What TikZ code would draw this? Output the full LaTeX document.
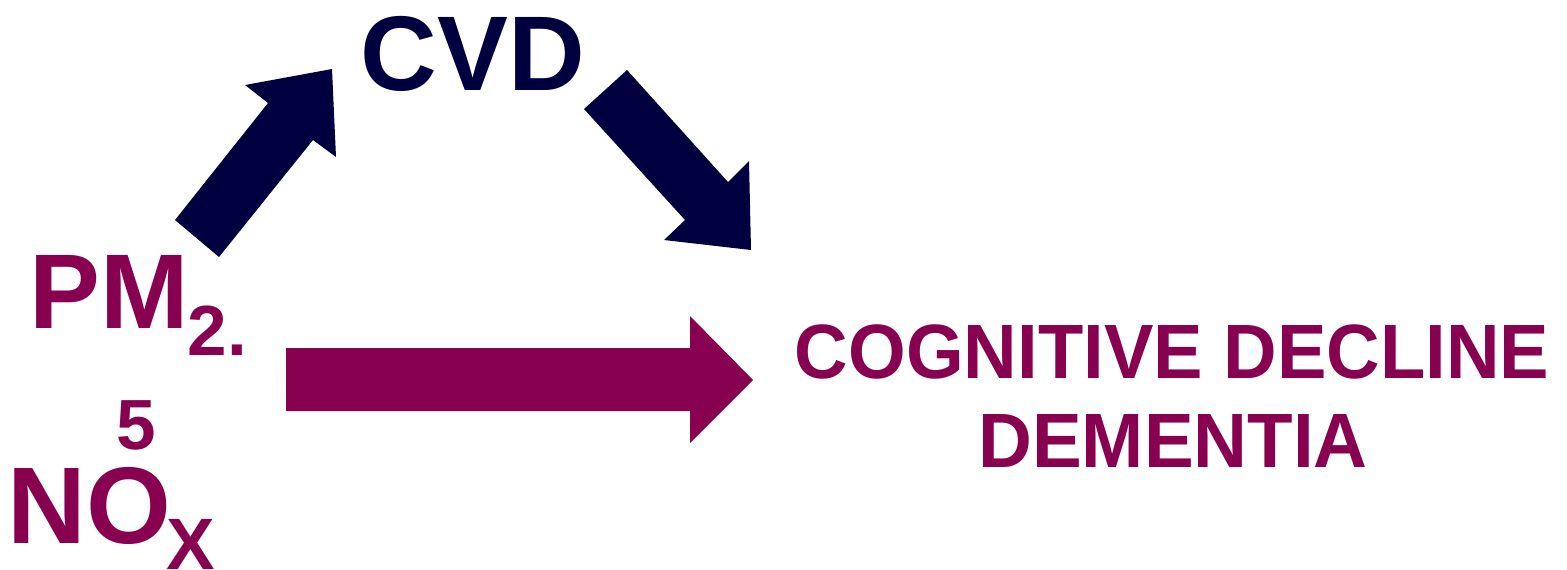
\documentclass[tikz,border=0pt]{standalone}
\usepackage{fontspec}
\setmainfont{Liberation Sans}
\definecolor{navy}{RGB}{0,0,64}
\definecolor{plum}{RGB}{136,0,80}
\begin{document}
\begin{tikzpicture}[x=0.01cm,y=-0.01cm,
  lbl/.style={inner sep=0pt, font=\bfseries},
  big/.style={lbl, font=\bfseries\fontsize{30.2pt}{36pt}\selectfont},
  small/.style={lbl, font=\bfseries\fontsize{20.2pt}{24pt}\selectfont},
  mid/.style={lbl, font=\bfseries\fontsize{21.9pt}{26pt}\selectfont},
  navyarrow/.style={fill=navy, draw=none},
  plumarrow/.style={fill=plum, draw=none}]
\useasboundingbox (0,0) rectangle (1567,569);
% labels
\node[big, text=plum, anchor=base west] (pm) at (29,328) {PM};
\node[small, text=plum, anchor=base west] (pmsub) at (187,355) {2.};
\node[small, text=plum, anchor=base west] (five) at (116,449) {5};
\node[big, text=plum, anchor=base west, font=\bfseries\fontsize{31pt}{36pt}\selectfont] (no) at (7,543) {NO};
\node[small, text=plum, anchor=base west, font=\bfseries\fontsize{20.7pt}{24pt}\selectfont] (x) at (166,569) {X};
\node[big, text=navy, anchor=base west] (cvd) at (360,90) {CVD};
\node[mid, text=plum, anchor=base] (cog) at (1172,378) {\scalebox{0.963}[1]{COGNITIVE DECLINE}};
\node[mid, text=plum, anchor=base] (dem) at (1173,467) {\scalebox{0.968}[1]{DEMENTIA}};
% arrows
\fill[navyarrow] (175,220) -- (268,103) -- (245,85) -- (332,69) -- (336,157) -- (313,140) -- (219,257) -- cycle;
\fill[navyarrow] (627,70) -- (728,182) -- (749,161) -- (751,250) -- (664,240) -- (685,220) -- (584,109) -- cycle;
\fill[plumarrow] (286,348) -- (690,348) -- (690,316) -- (753,380) -- (690,443) -- (690,411) -- (286,411) -- cycle;
\end{tikzpicture}
\end{document}
